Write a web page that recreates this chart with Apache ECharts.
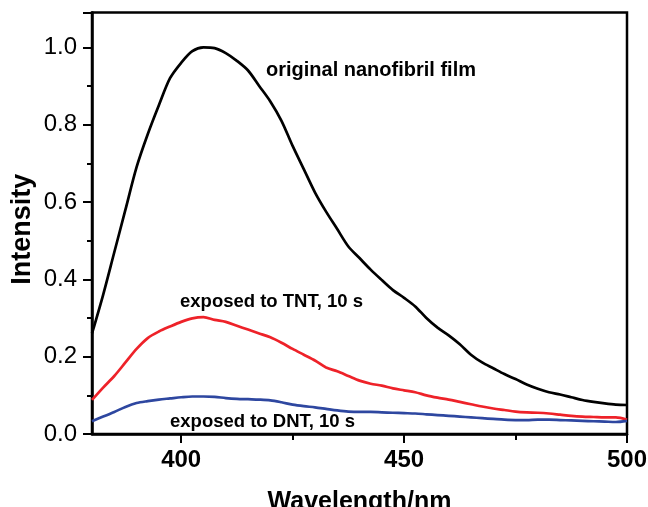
<!DOCTYPE html>
<html><head><meta charset="utf-8">
<script src="https://cdn.jsdelivr.net/npm/echarts@6/dist/echarts.min.js"></script>
<style>html,body{margin:0;padding:0;background:#fff}#c{width:648px;height:507px}</style>
</head><body><div id="c"></div>
<script>
const wavelengths = [380,382.5,385,387.5,390,392.5,395,397.5,400,402.5,405,407.5,410,412.5,415,417.5,420,422.5,425,427.5,430,432.5,435,437.5,440,442.5,445,447.5,450,452.5,455,457.5,460,462.5,465,467.5,470,472.5,475,477.5,480,482.5,485,487.5,490,492.5,495,497.5,500];
const originalFilm = [0.26,0.36,0.47,0.58,0.69,0.775,0.85,0.92,0.96,0.99,1.0,0.998,0.985,0.965,0.94,0.90,0.86,0.81,0.745,0.685,0.625,0.575,0.53,0.485,0.455,0.425,0.398,0.372,0.352,0.33,0.30,0.275,0.255,0.232,0.205,0.185,0.17,0.155,0.142,0.128,0.117,0.108,0.102,0.095,0.088,0.083,0.079,0.076,0.075];
const exposedTNT = [0.088,0.12,0.15,0.185,0.22,0.248,0.265,0.278,0.29,0.299,0.302,0.295,0.29,0.28,0.27,0.26,0.25,0.236,0.22,0.205,0.19,0.172,0.162,0.15,0.138,0.13,0.125,0.118,0.113,0.108,0.1,0.094,0.089,0.083,0.077,0.071,0.066,0.062,0.058,0.056,0.055,0.053,0.05,0.047,0.045,0.044,0.043,0.043,0.037];
const exposedDNT = [0.033,0.045,0.057,0.07,0.08,0.085,0.089,0.092,0.095,0.097,0.097,0.096,0.093,0.091,0.09,0.089,0.087,0.082,0.076,0.072,0.069,0.065,0.061,0.058,0.057,0.057,0.056,0.055,0.054,0.053,0.051,0.049,0.047,0.045,0.043,0.041,0.039,0.037,0.036,0.036,0.037,0.037,0.036,0.035,0.034,0.033,0.032,0.031,0.034];
const seriesNames = ['original nanofibril film','exposed to TNT, 10 s','exposed to DNT, 10 s'];
const xMajorTicks = [400,450,500];
const xMinorTicks = [425,475];

const pair = arr => wavelengths.map((w,i)=>[w,arr[i]]);
const F = '"Liberation Sans", Arial, sans-serif';
const chart = echarts.init(document.getElementById('c'));
const lineS = (name, data, color) => ({
  name, type:'line', data:pair(data), showSymbol:false, smooth:0.3,
  lineStyle:{color, width:2.7}, itemStyle:{color}, z:3
});
chart.setOption({
  animation:false,
  backgroundColor:'#fff',
  grid:{left:92, right:21, top:12.5, bottom:73, containLabel:false, outerBoundsMode:'none',
    show:true, borderColor:'#000', borderWidth:2.5},
  xAxis:[{
    type:'value', min:380, max:500,
    name:'Wavelength/nm', nameLocation:'middle', nameGap:56, nameMoveOverlap:false,
    nameTextStyle:{fontFamily:F, fontWeight:'bold', fontSize:25, color:'#000'},
    axisLine:{show:true, lineStyle:{color:'#000', width:2.5}},
    axisTick:{show:true, length:9, customValues:xMajorTicks, lineStyle:{color:'#000', width:2}},
    axisLabel:{fontFamily:F, fontWeight:'bold', fontSize:24, color:'#000', margin:14,
      customValues:xMajorTicks},
    splitLine:{show:false}
  },{
    type:'value', min:380, max:500, position:'bottom',
    axisLine:{show:false},
    axisTick:{show:true, length:6, customValues:xMinorTicks, lineStyle:{color:'#000', width:2}},
    axisLabel:{show:false},
    splitLine:{show:false}
  }],
  yAxis:{
    type:'value', min:0, max:1.09, interval:0.2,
    name:'Intensity', nameLocation:'middle', nameGap:56, nameMoveOverlap:false,
    nameTextStyle:{fontFamily:F, fontWeight:'bold', fontSize:27, color:'#000', padding:[0,12,0,0]},
    axisLine:{show:true, lineStyle:{color:'#000', width:2.5}},
    axisTick:{show:true, length:9, lineStyle:{color:'#000', width:2}},
    minorTick:{show:true, splitNumber:2, length:5, lineStyle:{color:'#000', width:2}},
    axisLabel:{fontFamily:F, fontSize:24, color:'#000', margin:15,
      formatter:v=>v.toFixed(1), showMaxLabel:false},
    splitLine:{show:false}
  },
  series:[
    lineS(seriesNames[0], originalFilm, '#000000'),
    lineS(seriesNames[1], exposedTNT, '#ee2229'),
    lineS(seriesNames[2], exposedDNT, '#2e47a0')
  ],
  graphic:[
    {type:'text', x:266, y:70, style:{text:seriesNames[0], font:'bold 20px '+F, fill:'#000', verticalAlign:'middle'}},
    {type:'text', x:180, y:301.5, style:{text:seriesNames[1], font:'bold 18.5px '+F, fill:'#000', verticalAlign:'middle'}},
    {type:'text', x:170, y:421.5, style:{text:seriesNames[2], font:'bold 18.5px '+F, fill:'#000', verticalAlign:'middle'}}
  ]
});
</script></body></html>
